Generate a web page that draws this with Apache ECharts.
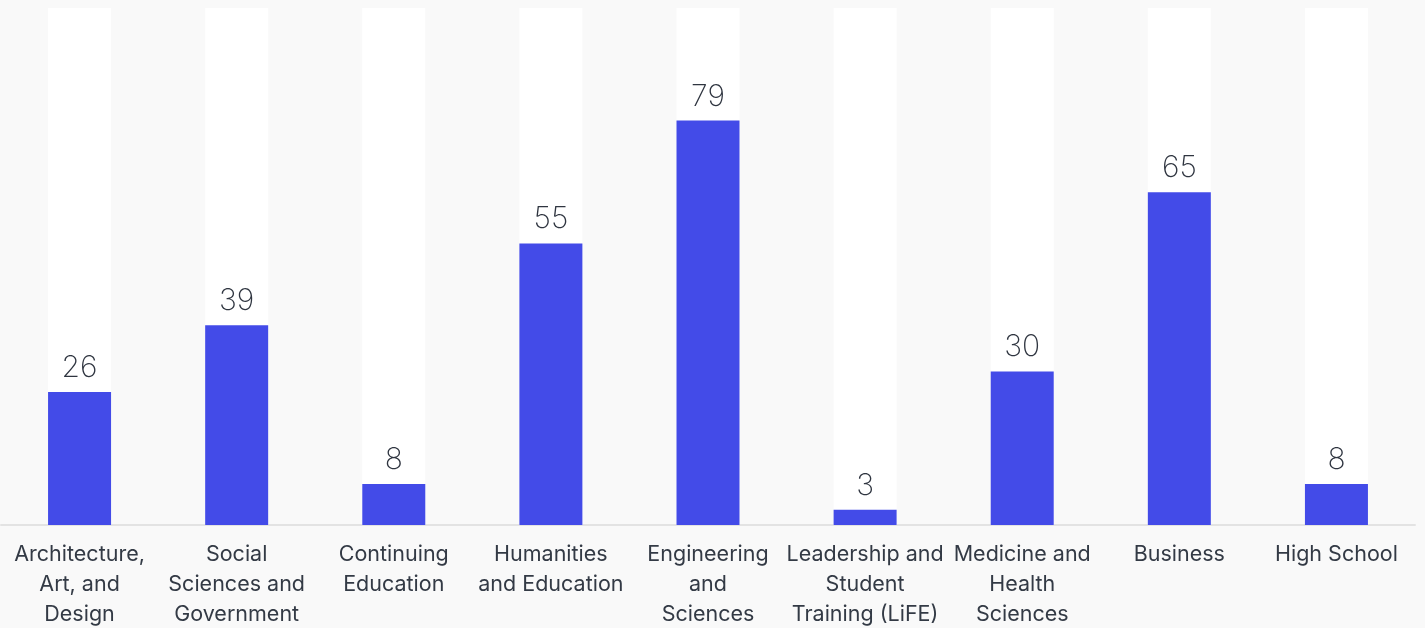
<!DOCTYPE html>
<html>
<head>
<meta charset="utf-8">
<script src="https://cdn.jsdelivr.net/npm/echarts@6/dist/echarts.min.js"></script>
<style>
  html, body { margin: 0; padding: 0; background: #f9f9f9; }
  #chart { width: 1425px; height: 628px; }
</style>
</head>
<body>
<div id="chart"></div>
<script>
// Enrollment by school
const categories = [
  'Architecture,\nArt, and\nDesign',
  'Social\nSciences and\nGovernment',
  'Continuing\nEducation',
  'Humanities\nand Education',
  'Engineering\nand\nSciences',
  'Leadership and\nStudent\nTraining (LiFE)',
  'Medicine and\nHealth\nSciences',
  'Business',
  'High School'
];
const values = [26, 39, 8, 55, 79, 3, 30, 65, 8];
const axisMax = 101;

const chart = echarts.init(document.getElementById('chart'));
chart.setOption({
  backgroundColor: '#f9f9f9',
  animation: false,
  grid: {
    left: 1, right: 10, top: 8, bottom: 103,
    containLabel: false,
    outerBoundsMode: 'none'
  },
  xAxis: {
    type: 'category',
    data: categories,
    axisLine: { lineStyle: { color: '#e3e3e3', width: 2 } },
    axisTick: { show: false },
    axisLabel: {
      interval: 0,
      color: '#333a45',
      fontFamily: 'Inter',
      fontSize: 21.5,
      lineHeight: 30,
      margin: 15
    }
  },
  yAxis: {
    type: 'value',
    min: 0,
    max: axisMax,
    show: false,
    splitLine: { show: false }
  },
  series: [{
    type: 'bar',
    data: values,
    barWidth: 63,
    showBackground: true,
    backgroundStyle: { color: '#ffffff' },
    itemStyle: { color: '#434be8' },
    label: {
      show: true,
      position: 'top',
      distance: 9,
      color: '#2f3540',
      fontFamily: 'Inter',
      fontWeight: 200,
      fontSize: 30
    }
  }]
});
</script>
</body>
</html>
